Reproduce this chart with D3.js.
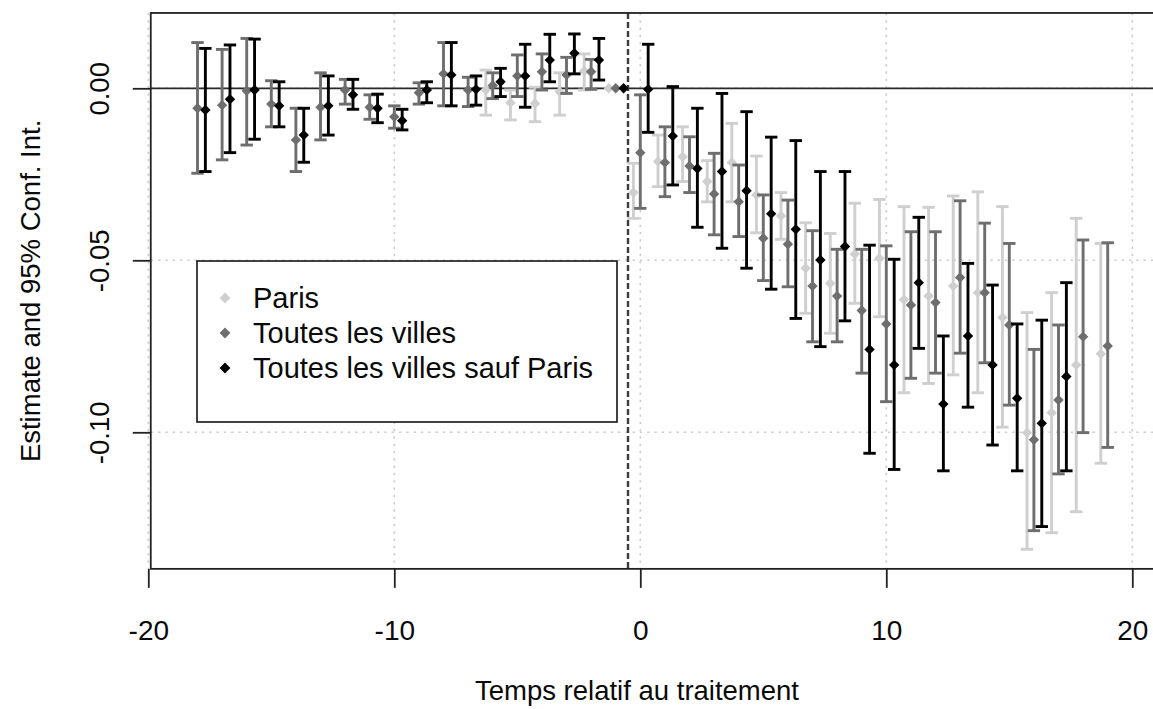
<!DOCTYPE html>
<html>
<head>
<meta charset="utf-8">
<script src="https://cdn.jsdelivr.net/npm/d3@7"></script>
<style>
  html, body { margin: 0; padding: 0; background: #ffffff; }
  text { font-family: "Liberation Sans", Arial, sans-serif; fill: #0a0a0a; }
</style>
</head>
<body>
<svg id="chart" width="1153" height="709"></svg>
<script>
// Event-study estimates with 95% confidence intervals, by relative period.

// Paris
const parisPeriods = [-6, -5, -4, -3, -2, -1, 0, 1, 2, 3, 4, 5, 6, 7, 8, 9, 10, 11, 12, 13, 14, 15, 16, 17, 18, 19];
const parisEst = [-0.0005, -0.0042, -0.0044, -0.0010, 0.0050, 0, -0.0303, -0.0213, -0.0199, -0.0271, -0.0216, -0.0310, -0.0371, -0.0523, -0.0567, -0.0482, -0.0494, -0.0615, -0.0604, -0.0575, -0.0594, -0.0666, -0.1001, -0.0943, -0.0804, -0.0772];
const parisLow = [-0.0078, -0.0092, -0.0097, -0.0078, -0.0005, 0, -0.0378, -0.0286, -0.0271, -0.0330, -0.0330, -0.0420, -0.0439, -0.0654, -0.0712, -0.0625, -0.0664, -0.0885, -0.0858, -0.0833, -0.0885, -0.0985, -0.1340, -0.1292, -0.1231, -0.1090];
const parisHigh = [0.0053, -0.0005, 0.0003, 0.0045, 0.0100, 0, -0.0218, -0.0136, -0.0112, -0.0210, -0.0102, -0.0197, -0.0303, -0.0391, -0.0422, -0.0334, -0.0323, -0.0344, -0.0346, -0.0313, -0.0301, -0.0344, -0.0652, -0.0594, -0.0378, -0.0451];

// Toutes les villes
const allPeriods = [-18, -17, -16, -15, -14, -13, -12, -11, -10, -9, -8, -7, -6, -5, -4, -3, -2, -1, 0, 1, 2, 3, 4, 5, 6, 7, 8, 9, 10, 11, 12, 13, 14, 15, 16, 17, 18, 19];
const allEst = [-0.0058, -0.0049, -0.0007, -0.0046, -0.0150, -0.0055, -0.0005, -0.0055, -0.0083, -0.0013, 0.0042, -0.0005, 0.0008, 0.0036, 0.0048, 0.0039, 0.0048, 0, -0.0187, -0.0216, -0.0226, -0.0307, -0.0330, -0.0436, -0.0453, -0.0575, -0.0604, -0.0646, -0.0685, -0.0630, -0.0623, -0.0550, -0.0594, -0.0688, -0.1022, -0.0906, -0.0722, -0.0749];
const allLow = [-0.0247, -0.0208, -0.0165, -0.0112, -0.0242, -0.0150, -0.0046, -0.0090, -0.0116, -0.0046, -0.0051, -0.0053, -0.0030, -0.0024, -0.0005, -0.0015, -0.0003, 0, -0.0349, -0.0315, -0.0303, -0.0426, -0.0431, -0.0559, -0.0577, -0.0737, -0.0737, -0.0828, -0.0911, -0.0843, -0.0828, -0.0770, -0.0798, -0.0921, -0.1286, -0.1121, -0.1001, -0.1044];
const allHigh = [0.0133, 0.0113, 0.0145, 0.0022, -0.0058, 0.0045, 0.0026, -0.0019, -0.0051, 0.0016, 0.0133, 0.0032, 0.0045, 0.0097, 0.0100, 0.0090, 0.0084, 0, -0.0019, -0.0112, -0.0141, -0.0189, -0.0223, -0.0310, -0.0325, -0.0414, -0.0468, -0.0468, -0.0458, -0.0417, -0.0417, -0.0327, -0.0392, -0.0451, -0.0759, -0.0688, -0.0441, -0.0449];

// Toutes les villes sauf Paris
const exParisPeriods = [-18, -17, -16, -15, -14, -13, -12, -11, -10, -9, -8, -7, -6, -5, -4, -3, -2, -1, 0, 1, 2, 3, 4, 5, 6, 7, 8, 9, 10, 11, 12, 13, 14, 15, 16, 17];
const exParisEst = [-0.0063, -0.0032, -0.0005, -0.0051, -0.0136, -0.0051, -0.0019, -0.0058, -0.0094, -0.0005, 0.0039, -0.0003, 0.0019, 0.0036, 0.0082, 0.0102, 0.0082, 0, -0.0003, -0.0139, -0.0233, -0.0242, -0.0298, -0.0365, -0.0410, -0.0499, -0.0460, -0.0759, -0.0804, -0.0565, -0.0918, -0.0720, -0.0804, -0.0901, -0.0974, -0.0838];
const exParisLow = [-0.0242, -0.0187, -0.0148, -0.0112, -0.0215, -0.0136, -0.0061, -0.0100, -0.0121, -0.0042, -0.0051, -0.0049, -0.0024, -0.0055, 0.0019, 0.0042, 0.0024, 0, -0.0128, -0.0281, -0.0404, -0.0465, -0.0523, -0.0584, -0.0669, -0.0751, -0.0676, -0.1061, -0.1108, -0.0756, -0.1112, -0.0927, -0.1037, -0.1112, -0.1274, -0.1112];
const exParisHigh = [0.0116, 0.0126, 0.0143, 0.0019, -0.0058, 0.0036, 0.0026, -0.0017, -0.0061, 0.0019, 0.0133, 0.0036, 0.0058, 0.0128, 0.0157, 0.0158, 0.0145, 0, 0.0128, 0.0005, -0.0058, -0.0015, -0.0068, -0.0142, -0.0152, -0.0242, -0.0242, -0.0456, -0.0497, -0.0375, -0.0720, -0.0509, -0.0572, -0.0685, -0.0674, -0.0565];

const seriesNames = ["Paris", "Toutes les villes", "Toutes les villes sauf Paris"];
const seriesColors = ["#cfcfcf", "#6e6e6e", "#000000"];
const seriesShift = [-0.28, 0, 0.32];

const xTicks = [-20, -10, 0, 10, 20];
const yTicks = [0, -0.05, -0.10];
const xTitle = "Temps relatif au traitement";
const yTitle = "Estimate and 95% Conf. Int.";

// Plotting region limits (data units)
const xLimits = [-19.9, 21.0];
const yLimits = [-0.1397, 0.0219];
const treatmentLine = -0.5;

const svg = d3.select("#chart");
svg.append("rect").attr("width", 1153).attr("height", 709).attr("fill", "#fff");

const x = d3.scaleLinear().domain([-20, 20]).range([148.3, 1132.3]);
const y = d3.scaleLinear().domain([0, -0.10]).range([88.3, 432.3]);

const frameLeft = x(xLimits[0]), frameRight = x(xLimits[1]);
const frameTop = y(yLimits[1]), frameBottom = y(yLimits[0]);

// Dotted grid
const grid = svg.append("g");
grid.selectAll("line.gx").data(xTicks).join("line")
  .attr("x1", d => x(d)).attr("x2", d => x(d))
  .attr("y1", frameTop).attr("y2", frameBottom)
  .attr("stroke", "#cdcdcd").attr("stroke-width", 1.6)
  .attr("stroke-dasharray", "2.4,4.9");
grid.selectAll("line.gy").data(yTicks).join("line")
  .attr("y1", d => y(d)).attr("y2", d => y(d))
  .attr("x1", frameLeft).attr("x2", frameRight)
  .attr("stroke", "#cdcdcd").attr("stroke-width", 1.6)
  .attr("stroke-dasharray", "2.4,4.9");

// Zero reference line and treatment onset
svg.append("line")
  .attr("x1", frameLeft).attr("x2", frameRight)
  .attr("y1", y(0)).attr("y2", y(0))
  .attr("stroke", "#2a2a2a").attr("stroke-width", 1.8);
svg.append("line")
  .attr("x1", x(treatmentLine)).attr("x2", x(treatmentLine))
  .attr("y1", frameTop).attr("y2", frameBottom)
  .attr("stroke", "#3c3c3c").attr("stroke-width", 2.4)
  .attr("stroke-dasharray", "6,3");

// Series: error bars with caps, then diamond estimates
const seriesData = [
  [parisPeriods, parisEst, parisLow, parisHigh],
  [allPeriods, allEst, allLow, allHigh],
  [exParisPeriods, exParisEst, exParisLow, exParisHigh]
].map(([p, e, lo, hi], s) => p.map((t, i) => ({ t: t + seriesShift[s], est: e[i], lo: lo[i], hi: hi[i], s })));

const diamond = r => `M0,${-r}L${r},0L0,${r}L${-r},0Z`;
const capHalf = 6.2;

seriesData.forEach((rows, s) => {
  const g = svg.append("g");
  const color = seriesColors[s];
  const bars = rows.filter(d => d.hi !== d.lo);
  g.selectAll("line.bar").data(bars).join("line")
    .attr("x1", d => x(d.t)).attr("x2", d => x(d.t))
    .attr("y1", d => y(d.hi)).attr("y2", d => y(d.lo))
    .attr("stroke", color).attr("stroke-width", 2.9);
  g.selectAll("line.capHi").data(bars).join("line")
    .attr("x1", d => x(d.t) - capHalf).attr("x2", d => x(d.t) + capHalf)
    .attr("y1", d => y(d.hi)).attr("y2", d => y(d.hi))
    .attr("stroke", color).attr("stroke-width", 2.9);
  g.selectAll("line.capLo").data(bars).join("line")
    .attr("x1", d => x(d.t) - capHalf).attr("x2", d => x(d.t) + capHalf)
    .attr("y1", d => y(d.lo)).attr("y2", d => y(d.lo))
    .attr("stroke", color).attr("stroke-width", 2.9);
  g.selectAll("path.pt").data(rows).join("path")
    .attr("d", diamond(5.2))
    .attr("transform", d => `translate(${x(d.t)},${y(d.est)})`)
    .attr("fill", color);
});

// Plot frame (right side lies beyond the visible area)
svg.append("rect")
  .attr("x", frameLeft).attr("y", frameTop)
  .attr("width", frameRight - frameLeft).attr("height", frameBottom - frameTop)
  .attr("fill", "none").attr("stroke", "#222").attr("stroke-width", 1.8);

// Axes
const xAxis = svg.append("g")
  .attr("transform", `translate(0,${frameBottom})`)
  .call(d3.axisBottom(x).tickValues(xTicks).tickSize(19).tickPadding(32).tickFormat(d => String(d)));
xAxis.select(".domain").remove();
xAxis.selectAll(".tick line").attr("stroke", "#222").attr("stroke-width", 1.8);
xAxis.selectAll(".tick text").attr("font-size", 28).attr("fill", "#0a0a0a")
  .attr("font-family", "'Liberation Sans', Arial, sans-serif");

const yAxis = svg.append("g")
  .attr("transform", `translate(${frameLeft},0)`)
  .call(d3.axisLeft(y).tickValues(yTicks).tickSize(18).tickFormat(d => d.toFixed(2)));
yAxis.select(".domain").remove();
yAxis.selectAll(".tick line").attr("stroke", "#222").attr("stroke-width", 1.8);
yAxis.selectAll(".tick text")
  .attr("x", 0).attr("y", 0).attr("dy", null)
  .attr("transform", "translate(-51,0) rotate(-90)")
  .attr("text-anchor", "middle").attr("dominant-baseline", "central")
  .attr("font-size", 27.5).attr("fill", "#0a0a0a")
  .attr("font-family", "'Liberation Sans', Arial, sans-serif");

// Axis titles
svg.append("text")
  .attr("x", 637).attr("y", 700)
  .attr("text-anchor", "middle").attr("font-size", 27.5)
  .text(xTitle);
svg.append("text")
  .attr("transform", `translate(30,${(frameTop + frameBottom) / 2}) rotate(-90)`)
  .attr("text-anchor", "middle").attr("dominant-baseline", "central")
  .attr("font-size", 27.5)
  .text(yTitle);

// Legend
const legend = svg.append("g").attr("transform", "translate(197,261)");
legend.append("rect")
  .attr("width", 420).attr("height", 161)
  .attr("fill", "#fff").attr("stroke", "#222").attr("stroke-width", 1.7);
seriesNames.forEach((name, i) => {
  const cy = 37 + i * 35;
  legend.append("path")
    .attr("d", diamond(5.4))
    .attr("transform", `translate(28,${cy})`)
    .attr("fill", seriesColors[i]);
  legend.append("text")
    .attr("x", 56).attr("y", cy)
    .attr("dominant-baseline", "central")
    .attr("font-size", 29)
    .text(name);
});
</script>
</body>
</html>
